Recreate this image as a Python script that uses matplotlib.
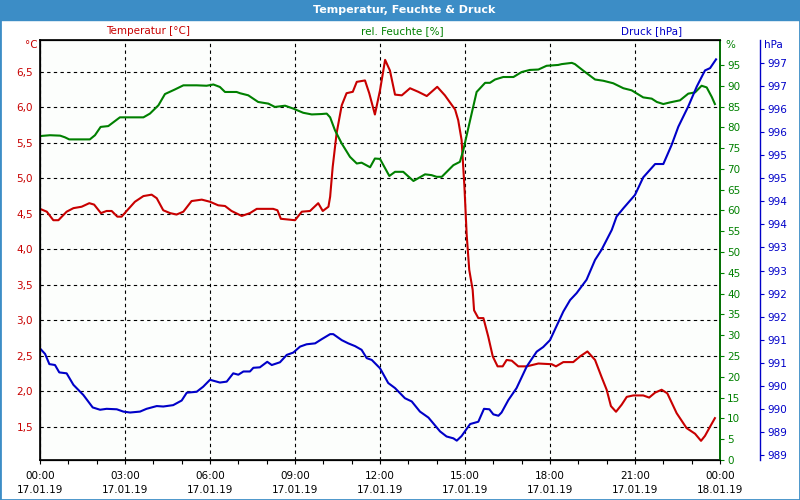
import matplotlib.pyplot as plt
from matplotlib.patches import Rectangle

# data (hours since 17.01.19 00:00)
t_hours = [0.00, 0.24, 0.47, 0.65, 0.94, 1.18, 1.47, 1.74, 1.91, 2.15, 2.35, 2.53, 2.73, 2.88,
           3.08, 3.35, 3.65, 3.94, 4.12, 4.35, 4.59, 4.82, 5.06, 5.35, 5.71, 6.00, 6.29, 6.53,
           6.76, 7.12, 7.41, 7.65, 8.23, 8.38, 8.50, 9.00, 9.24, 9.53, 9.82, 9.98, 10.18, 10.24,
           10.33, 10.47, 10.65, 10.82, 11.04, 11.18, 11.47, 11.62, 11.82, 12.00, 12.18, 12.35,
           12.53, 12.77, 13.06, 13.35, 13.65, 14.02, 14.29, 14.65, 14.76, 14.88, 14.98, 15.06,
           15.15, 15.27, 15.32, 15.47, 15.65, 15.82, 15.98, 16.15, 16.33, 16.47, 16.65, 16.88,
           17.18, 17.59, 18.06, 18.21, 18.47, 18.82, 19.06, 19.32, 19.59, 19.82, 20.00, 20.15,
           20.33, 20.53, 20.71, 20.94, 21.29, 21.50, 21.71, 21.94, 22.14, 22.47, 22.82, 23.12,
           23.33, 23.47, 23.65, 23.82]
temp = [4.57, 4.53, 4.41, 4.41, 4.53, 4.58, 4.60, 4.65, 4.63, 4.51, 4.54, 4.54, 4.46, 4.46,
        4.55, 4.67, 4.75, 4.77, 4.72, 4.55, 4.51, 4.49, 4.53, 4.68, 4.70, 4.67, 4.62, 4.61,
        4.54, 4.47, 4.51, 4.57, 4.57, 4.55, 4.43, 4.41, 4.53, 4.54, 4.65, 4.54, 4.60, 4.74,
        5.16, 5.64, 6.03, 6.20, 6.22, 6.36, 6.38, 6.20, 5.90, 6.24, 6.67, 6.52,
        6.18, 6.17, 6.27, 6.22, 6.16, 6.29, 6.17, 5.97, 5.82, 5.54, 4.88, 4.20,
        3.71, 3.43, 3.14, 3.03, 3.03, 2.77, 2.49, 2.35, 2.35, 2.44, 2.43, 2.35,
        2.35, 2.39, 2.38, 2.35, 2.41, 2.41, 2.49, 2.56, 2.44, 2.20, 2.02, 1.79,
        1.71, 1.81, 1.92, 1.94, 1.94, 1.91, 1.98, 2.02, 1.97, 1.69, 1.48, 1.40,
        1.30, 1.37, 1.50, 1.62]

h_hours = [0.00, 0.35, 0.71, 0.88, 1.03, 1.76, 1.94, 2.14, 2.41, 2.82, 3.65, 3.88, 4.18, 4.41,
           4.76, 5.06, 5.53, 5.88, 6.12, 6.35, 6.53, 6.94, 7.06, 7.35, 7.70, 8.06, 8.29, 8.65,
           8.94, 9.29, 9.59, 9.94, 10.12, 10.24, 10.41, 10.65, 10.94, 11.18, 11.35, 11.65, 11.82,
           12.00, 12.33, 12.53, 12.82, 13.18, 13.59, 13.82, 14.00, 14.18, 14.59, 14.82, 14.94,
           15.18, 15.41, 15.71, 15.88, 16.06, 16.35, 16.71, 17.00, 17.29, 17.59, 17.88, 18.29,
           18.41, 18.77, 18.88, 19.18, 19.59, 19.88, 20.23, 20.59, 20.88, 21.29, 21.59, 21.77,
           22.00, 22.24, 22.59, 22.88, 23.12, 23.35, 23.53, 23.71, 23.82]
hum = [77.9, 78.1, 78.0, 77.6, 77.1, 77.1, 78.1, 80.1, 80.3, 82.4, 82.4, 83.3, 85.3, 88.0,
       89.1, 90.1, 90.1, 90.0, 90.3, 89.7, 88.5, 88.5, 88.2, 87.7, 86.1, 85.7, 84.9, 85.2,
       84.5, 83.5, 83.1, 83.2, 83.3, 82.4, 79.3, 76.1, 72.9, 71.3, 71.5, 70.4, 72.5,
       72.4, 68.3, 69.3, 69.3, 67.1, 68.7, 68.5, 68.1, 68.1, 70.9, 71.7, 74.5,
       81.7, 88.5, 90.7, 90.7, 91.5, 92.1, 92.1, 93.3, 93.8, 93.9, 94.8, 95.0,
       95.2, 95.5, 95.2, 93.6, 91.5, 91.2, 90.6, 89.4, 88.9, 87.2, 86.9, 86.1,
       85.6, 86.0, 86.5, 88.1, 88.4, 90.0, 89.6, 87.3, 85.6]

p_hours = [0.00, 0.18, 0.33, 0.53, 0.68, 0.94, 1.18, 1.53, 1.86, 2.12, 2.35, 2.71, 2.94, 3.18,
           3.53, 3.76, 4.12, 4.35, 4.70, 5.00, 5.18, 5.53, 5.76, 6.00, 6.35, 6.59, 6.82, 7.00,
           7.18, 7.41, 7.53, 7.76, 8.02, 8.18, 8.47, 8.71, 8.94, 9.18, 9.41, 9.71, 9.94, 10.24,
           10.35, 10.65, 10.88, 11.12, 11.35, 11.53, 11.71, 12.00, 12.29, 12.53, 12.88, 13.12,
           13.41, 13.71, 14.12, 14.35, 14.59, 14.71, 14.88, 15.18, 15.47, 15.67, 15.86, 16.00,
           16.18, 16.29, 16.53, 16.82, 17.18, 17.53, 17.76, 18.00, 18.47, 18.71, 18.94, 19.29,
           19.59, 19.82, 20.18, 20.35, 20.59, 21.00, 21.29, 21.71, 22.00, 22.29, 22.53, 22.88,
           23.18, 23.47, 23.65, 23.86]
pres = [990.91, 990.79, 990.57, 990.55, 990.39, 990.37, 990.12, 989.90, 989.63, 989.58, 989.60,
        989.59, 989.54, 989.52, 989.54, 989.60, 989.66, 989.65, 989.68, 989.78, 989.95, 989.97,
        990.08, 990.23, 990.17, 990.19, 990.37, 990.34, 990.41, 990.41, 990.49, 990.50, 990.62,
        990.55, 990.61, 990.77, 990.82, 990.95, 991.00, 991.02, 991.11, 991.22, 991.22, 991.09,
        991.02, 990.96, 990.88, 990.70, 990.66, 990.48, 990.16, 990.05, 989.83, 989.76, 989.54,
        989.41, 989.11, 989.00, 988.96, 988.91, 989.01, 989.27, 989.32, 989.60, 989.59, 989.48,
        989.45, 989.52, 989.79, 990.05, 990.52, 990.84, 990.94, 991.09, 991.71, 991.96, 992.11,
        992.40, 992.83, 993.05, 993.48, 993.77, 993.95, 994.24, 994.62, 994.91, 994.91, 995.32,
        995.72, 996.16, 996.59, 996.94, 996.99, 997.18]

temp_ticks = [1.5, 2.0, 2.5, 3.0, 3.5, 4.0, 4.5, 5.0, 5.5, 6.0, 6.5]
hum_ticks = list(range(0, 100, 5))
pres_ticks = [988.6 + 0.5 * i for i in range(18)]
x_labels = ['00:00\n17.01.19', '03:00\n17.01.19', '06:00\n17.01.19', '09:00\n17.01.19',
            '12:00\n17.01.19', '15:00\n17.01.19', '18:00\n17.01.19', '21:00\n17.01.19',
            '00:00\n18.01.19']

RED = '#c80000'
GREEN = '#008000'
BLUE = '#0000c8'
FRAME = '#3c8dc6'

plt.rcParams['font.family'] = 'DejaVu Sans'
plt.rcParams['font.size'] = 7.5

fig = plt.figure(figsize=(8, 5), dpi=100)
ax = fig.add_axes([0.05, 0.08, 0.85, 0.84])
ax.set_facecolor('#fcfefc')
ax.plot(t_hours, temp, color=RED, lw=1.5)
ax.set_xlim(0, 24)
ax.set_ylim(1.03, 6.95)
ax.set_yticks(temp_ticks)
ax.set_yticklabels([f'{v:.1f}'.replace('.', ',') for v in temp_ticks], color=RED)
ax.tick_params(axis='y', length=0, pad=5)
ax.set_xticks(range(0, 25, 3))
ax.set_xticklabels(x_labels, linespacing=1.45)
ax.set_xticks(range(25), minor=True)
ax.tick_params(axis='x', which='both', length=3, width=0.8, pad=5)
ax.grid(True, color='black', linestyle=(0, (3, 3)), lw=0.8)
for s in ax.spines.values():
    s.set_linewidth(1.2)

ax2 = ax.twinx()
ax2.plot(h_hours, hum, color=GREEN, lw=1.5)
ax2.set_ylim(0, 101)
ax2.set_yticks(hum_ticks)
ax2.set_yticklabels([str(v) for v in hum_ticks], color=GREEN)
ax2.tick_params(axis='y', colors=GREEN, length=3, pad=2)
ax2.spines['right'].set_color(GREEN)
ax2.spines['right'].set_linewidth(1.2)

ax3 = ax.twinx()
ax3.spines['right'].set_position(('outward', 28.8))
ax3.plot(p_hours, pres, color=BLUE, lw=1.5)
ax3.set_ylim(988.49, 997.6)
ax3.set_yticks(pres_ticks)
ax3.set_yticklabels([f'{v:.0f}' for v in pres_ticks], color=BLUE)
ax3.tick_params(axis='y', colors=BLUE, length=3, pad=2)
ax3.spines['right'].set_color(BLUE)
ax3.spines['right'].set_linewidth(1)

# title bar and frame
fig.add_artist(Rectangle((0, 0.96), 1, 0.04, transform=fig.transFigure, color=FRAME))
fig.add_artist(Rectangle((0, 0), 1, 1, transform=fig.transFigure, fill=False,
                         edgecolor=FRAME, lw=2))
fig.text(0.505, 0.98, 'Temperatur, Feuchte & Druck', color='white', fontweight='bold',
         fontsize=8, ha='center', va='center')

fig.text(148 / 800, 1 - 31 / 500, 'Temperatur [°C]', color=RED, ha='center', va='center')
fig.text(402 / 800, 1 - 31 / 500, 'rel. Feuchte [%]', color=GREEN, ha='center', va='center')
fig.text(652 / 800, 1 - 31 / 500, 'Druck [hPa]', color=BLUE, ha='center', va='center')
fig.text(31 / 800, 1 - 45 / 500, '°C', color=RED, ha='center', va='center')
fig.text(730 / 800, 1 - 45 / 500, '%', color=GREEN, ha='center', va='center')
fig.text(773 / 800, 1 - 45 / 500, 'hPa', color=BLUE, ha='center', va='center')

fig.savefig('out.png', dpi=100)
